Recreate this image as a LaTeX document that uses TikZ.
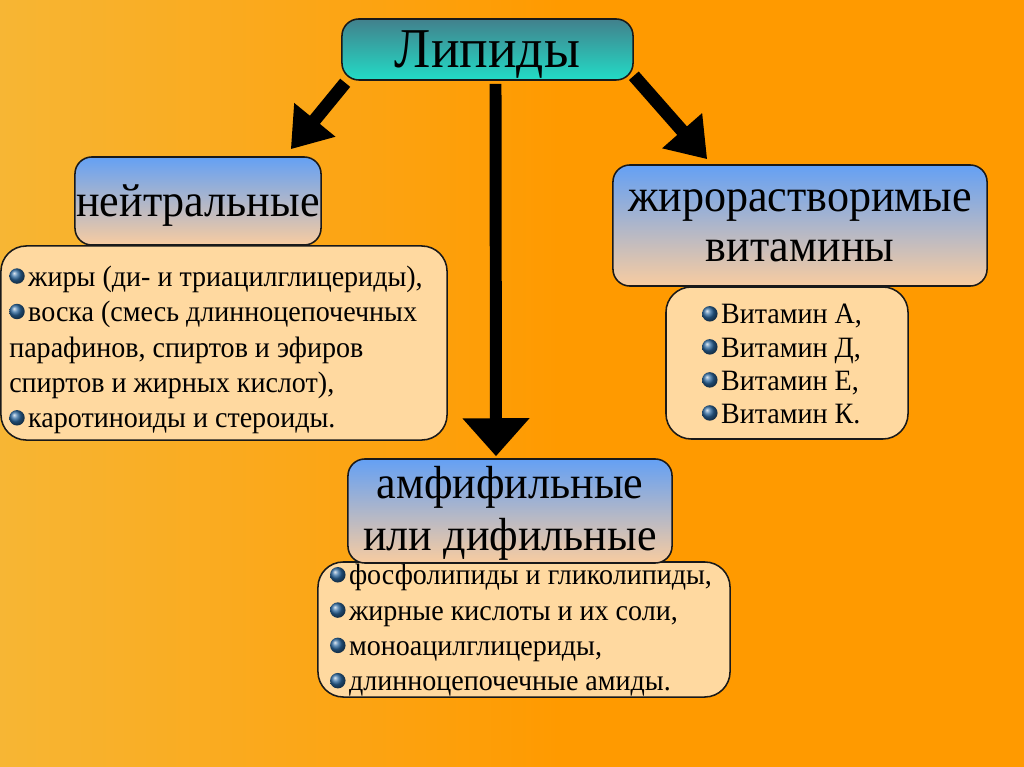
\documentclass[tikz,border=0pt]{standalone}
\usepackage{fontspec}
\setmainfont{Liberation Serif}[FakeStretch=0.95]
\usepackage{tikz}
\usetikzlibrary{arrows.meta,calc}

\definecolor{bgorange}{RGB}{255,154,0}
\definecolor{bgyellow}{RGB}{247,182,52}
\definecolor{tealtop}{RGB}{66,128,140}
\definecolor{tealbot}{RGB}{34,220,198}
\definecolor{bluetop}{RGB}{100,160,244}
\definecolor{peachbot}{RGB}{248,204,160}
\definecolor{listfill}{RGB}{255,217,160}
\definecolor{bulblue}{RGB}{45,105,160}

\tikzset{
  box/.style={draw=black!90, line width=1.1pt, rounded corners=12pt, inner sep=0pt, align=center},
  titlebox/.style={box, top color=tealtop, bottom color=tealbot, text depth=0pt, font=\fontsize{40}{44}\selectfont},
  headbox/.style={box, top color=bluetop, bottom color=peachbot, text depth=0pt, font=\fontsize{33}{36}\selectfont},
  listbox/.style={box, fill=listfill, rounded corners=18pt},
  listtext/.style={inner sep=0pt, align=left},
  fatarrow/.style={-{Triangle[width=36pt,length=27pt]}, line width=9.2pt, black}
}

\newcommand{\blt}{\tikz[baseline=-0.75ex]\shade[ball color=bulblue] (0,0) circle (5.5pt);\kern2.5pt}

\begin{document}
\begin{tikzpicture}[x=0.025cm, y=-0.025cm]

% --- BACKGROUND ---
\useasboundingbox (0,0) rectangle (1024,767);
\fill[bgorange] (0,0) rectangle (1024,767);
\shade[left color=bgyellow, right color=bgorange] (0,0) rectangle (560,767);

% --- BOXES ---
\node[titlebox, minimum width=7.275cm, minimum height=1.525cm] (lip) at (487.5,49.5) {Липиды};

% neutral lipids
\node[listbox, minimum width=11.15cm, minimum height=4.85cm] (neulist) at (224,343) {};
\node[listtext, font=\fontsize{21}{25.2}\selectfont] (neutxt) at ($(neulist.center)+(-8,7)$)
  {\blt жиры (ди- и триацилглицериды),\\
   \blt воска (смесь длинноцепочечных\\
   парафинов, спиртов и эфиров\\
   спиртов и жирных кислот),\\
   \blt каротиноиды и стероиды.};
\node[headbox, minimum width=6.15cm, minimum height=2.2cm] (neu) at (198,201) {нейтральные};

% vitamins
\node[listbox, minimum width=6.05cm, minimum height=3.8cm] (vitlist) at (787,363) {};
\node[listtext, font=\fontsize{21}{23.5}\selectfont] (vittxt) at ($(vitlist.center)+(-5,1)$)
  {\blt Витамин А,\\
   \blt Витамин Д,\\
   \blt Витамин Е,\\
   \blt Витамин К.};
\node[headbox, minimum width=9.35cm, minimum height=3.025cm,
  font=\fontsize{33}{35.6}\selectfont] (vit) at (800,225.5) {жирорастворимые\\витамины};

% amphiphilic
\node[listbox, minimum width=10.3cm, minimum height=3.375cm] (amflist) at (524,629.5) {};
\node[listtext, font=\fontsize{21}{25.1}\selectfont] (amftxt) at ($(amflist.center)+(-3,1)$)
  {\blt фосфолипиды и гликолипиды,\\
   \blt жирные кислоты и их соли,\\
   \blt моноацилглицериды,\\
   \blt длинноцепочечные амиды.};
\node[headbox, minimum width=8.1cm, minimum height=2.6cm, text depth=4pt,
  font=\fontsize{33}{37.2}\selectfont] (amf) at (510,511) {амфифильные\\или дифильные};

% --- ARROWS ---
\draw[fatarrow] ($(lip.south west)+(4,2)$) -- ($(neu.north east)+(-31,-7)$);
\draw[fatarrow] ($(lip.south east)+(0,-5)$) -- ($(vit.north west)+(95,-5)$);
\draw[fatarrow, line width=8.5pt, -{Triangle[width=46pt,length=27pt]}]
  ($(lip.south)+(8,3)$) -- ($(amf.north)+(-14,-2)$);

\end{tikzpicture}
\end{document}
